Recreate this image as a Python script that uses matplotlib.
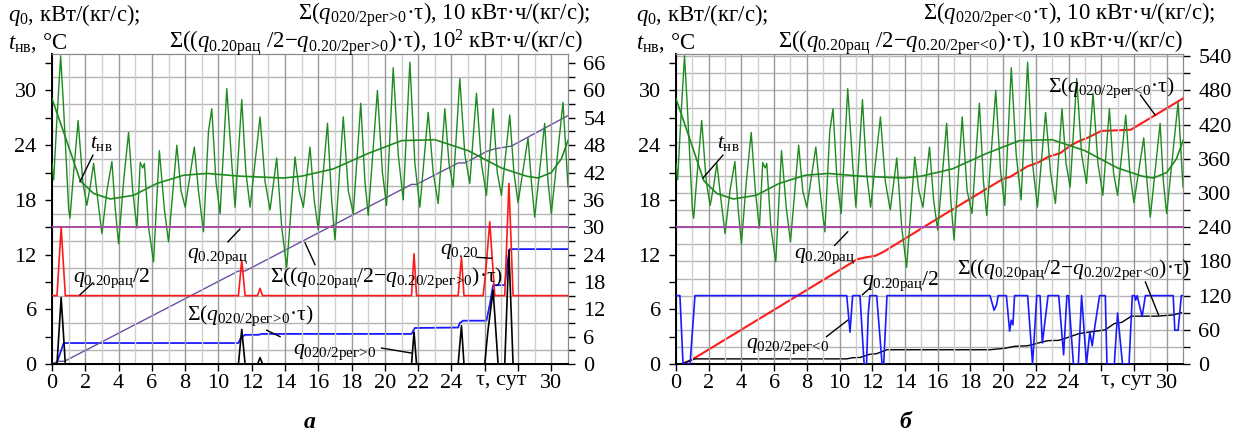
import numpy as np
import matplotlib.pyplot as plt
from matplotlib.ticker import MultipleLocator, FixedLocator

plt.rcParams.update({
    "font.family": ["Liberation Serif", "DejaVu Serif"],
    "mathtext.fontset": "custom",
    "mathtext.rm": "Liberation Serif",
    "mathtext.it": "Liberation Serif:italic",
    "mathtext.bf": "Liberation Serif:bold",
    "font.size": 15,
})

# ---- outdoor temperature, daily oscillation (t, °C) ----
t_osc = [0.0, 0.1, 0.3, 0.52, 0.7, 1.0, 1.08, 1.3, 1.57, 1.85, 2.09, 2.3, 2.5, 2.75, 3.0,
         3.3, 3.6, 3.8, 4.0, 4.3, 4.6, 4.85, 5.1, 5.3, 5.45, 5.55, 5.8, 6.1, 6.45, 6.75,
         7.0, 7.5, 7.75, 8.0, 8.55, 8.8, 9.1, 9.4, 9.6, 9.85, 10.1, 10.5, 10.8, 11.0, 11.4,
         11.65, 11.9, 12.5, 12.8, 13.1, 13.5, 13.8, 14.1, 14.6, 14.85, 15.1, 15.5, 15.75,
         16.0, 16.55, 16.8, 17.0, 17.5, 17.8, 18.1, 18.55, 18.8, 19.0, 19.55, 19.85, 20.1,
         20.5, 20.8, 21.1, 21.5, 21.8, 22.1, 22.6, 22.9, 23.2, 23.6, 23.85, 24.1, 24.5, 24.8,
         25.1, 25.5, 25.8, 26.1, 26.5, 26.75, 27.0, 27.5, 27.75, 28.0, 28.6, 28.8, 29.0,
         29.6, 29.8, 30.0, 30.7, 31.0]
v_osc = [22.0, 20.2, 27.0, 33.8, 28.0, 17.0, 16.0, 21.0, 26.7, 20.0, 17.4, 19.5, 22.0, 18.0, 14.3,
         19.0, 22.2, 17.0, 13.2, 20.0, 25.4, 19.0, 14.9, 22.1, 21.5, 22.0, 15.0, 11.2, 23.4, 17.0,
         13.4, 24.0, 19.0, 17.2, 23.8, 19.0, 14.5, 25.5, 28.0, 20.0, 16.5, 30.2, 22.0, 17.2, 29.0,
         21.0, 17.2, 27.1, 20.0, 16.9, 22.6, 15.0, 10.6, 22.7, 19.0, 17.2, 23.8, 18.0,
         14.7, 26.4, 18.0, 13.6, 27.1, 19.0, 16.5, 28.6, 20.0, 16.3, 30.0, 21.0, 17.4,
         32.5, 23.0, 18.0, 33.1, 22.0, 17.2, 27.6, 21.0, 17.6, 28.0, 22.0, 19.4, 31.3, 23.0,
         19.8, 29.7, 22.0, 18.5, 28.0, 21.0, 18.5, 27.3, 21.0, 17.7, 24.8, 20.0, 16.1,
         26.4, 20.0, 16.5, 28.7, 19.4]

# ---- outdoor temperature, smoothed ----
t_avg = [0, 0.8, 1.7, 2.5, 3.5, 4.9, 6.3, 7.9, 9.3, 11.3, 13.9, 15.0, 16.9, 19.0, 21.0,
         23.0, 25.0, 27.0, 28.5, 29.2, 30.0, 30.6, 31.0]
v_avg = [29.1, 24.9, 20.1, 18.7, 18.1, 18.5, 19.8, 20.7, 20.9, 20.6, 20.4, 20.6, 21.4, 23.1, 24.5,
         24.6, 23.4, 21.5, 20.6, 20.4, 21.0, 22.5, 24.5]

Q_RAC = 15.0          # q0.20рац
Q_HALF = Q_RAC / 2    # q0.20рац/2

# ---- panel a: q0.20 (red), q020/2рег>0 (black), kW/(kg/s) ----
t_red_a = [0, 0.3, 0.55, 0.8, 11.2, 11.4, 11.6, 12.35, 12.5, 12.65, 21.6, 21.75, 21.9, 24.4,
           24.6, 24.75, 25.9, 26.05, 26.3, 26.6, 27.2, 27.45, 27.7, 31]
v_red_a = [7.5, 7.5, 15.0, 7.5, 7.5, 11.4, 7.5, 7.5, 8.3, 7.5, 7.5, 12.1, 7.5, 7.5,
           11.7, 7.5, 7.5, 10.0, 15.6, 7.5, 7.5, 19.8, 7.5, 7.5]
t_blk_a = [0, 0.3, 0.55, 0.8, 11.2, 11.4, 11.6, 12.35, 12.5, 12.65, 21.6, 21.75, 21.9, 24.4,
           24.6, 24.75, 26.0, 26.1, 26.2, 26.5, 26.8, 27.2, 27.45, 27.7, 31]
v_blk_a = [0, 0, 7.3, 0, 0, 3.8, 0, 0, 0.7, 0, 0, 3.5, 0, 0,
           4.2, 0, 0, 2.0, 3.8, 8.1, 0, 0, 12.5, 0, 0]

# ---- panel a: cumulative sums, right axis ----
t_sum_a = [0, 0.3, 0.55, 0.7, 11.2, 11.35, 11.6, 12.4, 12.6, 21.6, 21.8, 24.4, 24.5, 24.7,
           26.1, 26.3, 26.5, 27.2, 27.35, 27.5, 31]
v_sum_a = [0, 0.3, 3.0, 4.6, 4.6, 5.8, 6.4, 6.4, 6.6, 6.6, 7.9, 8.0, 9.0, 9.5,
           9.5, 13.0, 17.3, 17.3, 22.0, 25.2, 25.2]
t_diff_a = [0, 0.35, 0.75, 11.2, 11.6, 21.6, 21.9, 24.4, 24.8, 26.1, 26.6, 27.6, 31]
v_diff_a = [0, 0.6, 0.6, 20.4, 20.4, 39.4, 39.4, 44.1, 44.1, 46.6, 47.2, 47.8, 54.5]

# ---- panel б: q0.20/2рег<0 (blue), kW/(kg/s) ----
t_blue_b = [0, 0.24, 0.43, 0.86, 1.16, 10.44, 10.64, 10.8, 11.25, 11.5, 11.65, 11.75, 11.85,
            12.27, 12.6, 12.7, 12.9, 19.2, 19.45, 19.6, 19.7, 20.2, 20.4, 20.5, 20.6, 20.7,
            21.5, 21.8, 22.06, 22.26, 22.4, 22.75, 23.4, 23.7, 23.9, 24.0, 24.3, 24.6, 24.8,
            24.8, 25.1, 25.3, 25.45, 25.6, 25.9, 26.25, 26.35, 26.8, 27.0, 27.3, 27.7, 27.9,
            28.05, 28.1, 28.2, 28.5, 28.7, 30.4, 30.5, 30.7, 30.9, 31]
v_blue_b = [7.5, 7.5, 0, 0, 7.5, 7.5, 3.5, 7.5, 7.5, 0, 0, 5.4, 7.5,
            7.5, 0, 0, 7.5, 7.5, 5.9, 6.5, 7.5, 7.5, 3.6, 4.8, 4.3, 7.5,
            7.5, 0, 7.5, 7.5, 2.3, 7.5, 7.5, 1.0, 7.5, 7.5, 0, 0, 7.5,
            7.5, 0, 3.5, 2.0, 4.0, 7.5, 7.5, 0, 0, 5.6, 0, 0, 7.5,
            7.5, 7.0, 7.5, 5.2, 7.5, 7.5, 3.7, 3.7, 7.5, 7.5]

# ---- panel б: cumulative sums, right axis ----
t_sum_b = [0, 0.4, 1.0, 11.1, 11.6, 12.2, 12.7, 16.15, 20.0, 20.4, 21.5, 22.1, 22.8, 23.5,
           24.1, 24.7, 25.1, 26.0, 27.8, 31.0]
v_sum_b = [0, 0, 8, 184, 187, 190, 197, 258, 325, 328, 347, 353, 364, 370,
           383, 392, 396, 409, 411, 466]
t_diff_b = [0, 0.3, 1.15, 10.45, 10.8, 11.25, 11.85, 12.25, 12.9, 19.2, 19.7, 20.1, 20.7,
            21.5, 22.05, 22.3, 22.75, 23.4, 23.9, 24.0, 24.6, 25.0, 25.9, 26.25, 26.8, 27.25,
            27.85, 29.4, 30.4, 30.9]
v_diff_b = [0, 0, 9, 9, 11, 11.5, 17, 18, 25, 25, 26.5, 27.5, 31,
            32, 36, 38, 41, 41.5, 46, 47, 53, 55, 58.5, 60, 71, 73,
            84, 84, 86, 90]

W, H = 1247, 441
GREEN = "#1f8a1f"
PURPLE_H = "#a64ca6"
PURPLE_D = "#6a4fa0"
RED = "#ff1a1a"
BLUE = "#1a1aff"
HDR = 16.4     # header font
LBL = 15.5     # in-plot labels

# subscripts (">" / "<" without relation spacing)
Q_RAC_S = r"$q_{\mathrm{0.20рац}}$"
Q_POS = r"$q_{\mathrm{020/2рег}\!>\!\mathrm{0}}$"
Q_POS_D = r"$q_{\mathrm{0.20/2рег}\!>\!\mathrm{0}}$"
Q_NEG = r"$q_{\mathrm{020/2рег}\!<\!\mathrm{0}}$"
Q_NEG_D = r"$q_{\mathrm{0.20/2рег}\!<\!\mathrm{0}}$"
T_NV = r"$t_{\mathrm{нв}}$"

fig = plt.figure(figsize=(W / 100, H / 100), dpi=100)


def px_axes(x0, x1, y_top, y_bot):
    return fig.add_axes([x0 / W, 1 - y_bot / H, (x1 - x0) / W, (y_bot - y_top) / H])


def setup(ax, axr, rmax, rmajor, rminor, rgrid, tau_x):
    ax.set_xlim(0, 31)
    ax.set_ylim(0, 34)
    axr.set_ylim(0, rmax)
    # grid: every day vertical, even days darker
    for d in range(1, 31):
        ax.axvline(d, color="#9a9a9a" if d % 2 == 0 else "#cfcfcf", lw=1.0, zorder=0)
    for v in rgrid:
        axr.axhline(v, color="#b4b4b4", lw=1.0, zorder=0)
    ax.xaxis.set_major_locator(FixedLocator(range(0, 31, 2)))
    ax.set_xticklabels([str(d) if d <= 24 or d == 30 else "" for d in range(0, 31, 2)])
    ax.set_yticks(range(0, 31, 6))
    ax.yaxis.set_minor_locator(MultipleLocator(3))
    axr.yaxis.set_minor_locator(MultipleLocator(rminor))
    axr.set_yticks(np.arange(0, rmax + 0.1, rmajor))
    for a in (ax, axr):
        a.tick_params(direction="out", length=5, width=1, labelsize=16, pad=2)
        a.tick_params(which="minor", direction="out", length=5, width=1)
    ax.tick_params(axis="y", pad=6)
    axr.tick_params(axis="y", pad=6)
    for s in ("left", "bottom"):
        ax.spines[s].set_linewidth(1.4)
    for a in (ax, axr):
        a.spines["top"].set_color("#8a8a8a")
        a.spines["right"].set_color("#8a8a8a")
    ax.text(tau_x, -0.8, "τ, сут", ha="center", va="top", fontsize=16, clip_on=False)
    ax.set_zorder(axr.get_zorder() + 1)
    ax.patch.set_visible(False)


def leader(ax, p0, p1):
    ax.plot([p0[0], p1[0]], [p0[1], p1[1]], color="black", lw=1.0, zorder=6)


def label(ax, x, y, s):
    ax.text(x, y, s, fontsize=LBL, va="center", zorder=7)


# ================= panel a =================
ax1 = px_axes(52, 568, 54, 364)
ax1r = ax1.twinx()
setup(ax1, ax1r, 68, 6, 3, np.arange(3, 68, 6), 27.0)

ax1.plot(t_osc, v_osc, color=GREEN, lw=1.0, zorder=3)
ax1.plot(t_avg, v_avg, color=GREEN, lw=1.2, zorder=3)
ax1.axhline(Q_RAC, color=PURPLE_H, lw=1.4, zorder=3)
ax1.plot(t_red_a, v_red_a, color=RED, lw=1.2, zorder=4)
ax1.plot(t_blk_a, v_blk_a, color="black", lw=1.2, zorder=4)
ax1r.plot(t_sum_a, v_sum_a, color=BLUE, lw=1.3, zorder=4)
ax1r.plot(t_diff_a, v_diff_a, color=PURPLE_D, lw=1.0, zorder=4)

label(ax1, 2.3, 24.2, T_NV)
leader(ax1, (2.46, 22.9), (1.68, 20.0))
label(ax1, 8.1, 11.8, Q_RAC_S)
leader(ax1, (10.57, 13.4), (11.29, 14.8))
label(ax1, 1.26, 9.4, Q_RAC_S + "/2")
leader(ax1, (1.68, 7.6), (2.46, 8.9))
label(ax1, 13.1, 9.5, "Σ((" + Q_RAC_S + "/2−" + Q_POS_D + ")·τ)")
leader(ax1, (15.2, 13.3), (15.8, 10.9))
label(ax1, 8.1, 5.3, "Σ(" + Q_POS + "·τ)")
leader(ax1, (12.9, 3.7), (13.7, 3.0))
label(ax1, 14.5, 1.3, Q_POS)
leader(ax1, (19.8, 1.75), (21.6, 1.2))
label(ax1, 23.3, 12.3, r"$q_{\mathrm{0.20}}$")
leader(ax1, (25.5, 11.7), (26.4, 11.6))

# ================= panel б =================
ax2 = px_axes(676, 1183, 54, 364)
ax2r = ax2.twinx()
setup(ax2, ax2r, 544, 60, 30, np.arange(30, 544, 30), 27.5)

ax2.plot(t_osc, v_osc, color=GREEN, lw=1.0, zorder=3)
ax2.plot(t_avg, v_avg, color=GREEN, lw=1.2, zorder=3)
ax2.axhline(Q_RAC, color=PURPLE_H, lw=1.4, zorder=3)
ax2.plot(t_blue_b, v_blue_b, color=BLUE, lw=1.2, zorder=4)
ax2r.plot(t_sum_b, v_sum_b, color=RED, lw=1.5, zorder=4)
ax2r.plot(t_diff_b, v_diff_b, color="black", lw=1.0, zorder=4)

label(ax2, 2.5, 24.2, T_NV)
leader(ax2, (2.87, 22.9), (1.65, 20.4))
label(ax2, 7.2, 11.8, Q_RAC_S)
leader(ax2, (9.7, 13.0), (10.5, 14.5))
label(ax2, 11.4, 9.1, Q_RAC_S + "/2")
leader(ax2, (11.4, 7.6), (11.9, 8.4))
label(ax2, 4.3, 1.9, Q_NEG)
leader(ax2, (9.2, 3.0), (10.5, 4.8))
label(ax2, 17.2, 10.3, "Σ((" + Q_RAC_S + "/2−" + Q_NEG_D + ")·τ)")
leader(ax2, (28.7, 9.0), (29.5, 5.4))
label(ax2, 22.75, 30.3, "Σ(" + Q_NEG + "·τ)")
leader(ax2, (28.4, 29.5), (29.3, 27.3))


# ---- headers ----
def ftext(x, y, s, **kw):
    fig.text(x / W, 1 - y / H, s, fontsize=HDR, va="center", **kw)


ftext(8, 15, r"$q_0$, кВт/(кг/с);")
ftext(8, 43, T_NV + ", °С")
ftext(590, 15, "Σ(" + Q_POS + "·τ), 10 кВт·ч/(кг/с);", ha="right")
ftext(583, 43, "Σ((" + Q_RAC_S + " /2−" + Q_POS_D + ")·τ), 10$^2$ кВт·ч/(кг/с)",
      ha="right")
ftext(636, 15, r"$q_0$, кВт/(кг/с);")
ftext(636, 43, T_NV + ", °С")
ftext(1215, 15, "Σ(" + Q_NEG + "·τ), 10 кВт·ч/(кг/с);", ha="right")
ftext(1183, 43, "Σ((" + Q_RAC_S + " /2−" + Q_NEG_D + ")·τ), 10 кВт·ч/(кг/с)",
      ha="right")

fig.text(310 / W, 1 - 423 / H, "а", fontsize=17, fontweight="bold", style="italic",
         ha="center", va="center")
fig.text(905 / W, 1 - 423 / H, "б", fontsize=17, fontweight="bold", style="italic",
         ha="center", va="center")

fig.savefig("out.png", dpi=100)
